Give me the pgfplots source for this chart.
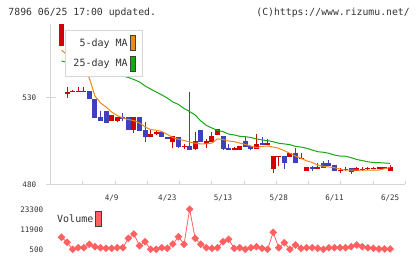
\documentclass[border=0pt]{standalone}
\usepackage{pgfplots}
\pgfplotsset{compat=1.18}
\usepackage{pgfplotstable}
\usepackage{fontspec}
\setmainfont{DejaVu Sans Mono}
\definecolor{cRed}{HTML}{D40000}
\definecolor{cBlue}{HTML}{3F3FBF}
\definecolor{cOrange}{HTML}{EE8A1A}
\definecolor{cGreen}{HTML}{16A816}
\definecolor{cVol}{HTML}{FF6060}
\definecolor{cAxis}{HTML}{D6D6D6}
\definecolor{cText}{HTML}{333333}

% up candles (red): index open high low close
\pgfplotstableread{
i o h l c
0 560.0 572.4 560.0 572.4
1 532.0 536.0 529.7 533.5
2 533.2 534.2 533.2 534.0
3 533.2 536.0 533.2 534.0
4 533.2 536.3 533.2 534.0
9 516.7 520.0 516.7 520.0
10 516.7 519.0 515.8 519.0
13 511.4 518.7 509.8 518.7
16 507.5 511.4 507.5 509.0
17 509.3 510.7 508.5 510.1
20 504.6 508.0 500.8 508.0
22 501.5 503.2 500.6 502.3
24 500.4 510.3 500.0 505.0
26 503.5 506.3 500.8 504.8
27 504.6 510.3 504.6 507.9
28 508.5 511.9 508.5 511.9
31 499.9 501.7 499.8 500.7
32 499.8 502.3 499.8 502.3
35 500.4 509.0 500.4 503.2
37 502.9 506.0 502.7 503.7
38 488.8 496.3 486.7 496.3
39 495.6 496.4 490.7 496.4
41 495.9 498.2 495.9 498.2
43 494.6 498.2 494.6 495.4
44 487.9 489.8 487.9 489.8
46 488.8 492.5 488.8 489.8
50 487.4 489.6 486.4 488.2
51 488.3 489.8 487.9 489.1
53 487.9 489.8 487.9 489.2
54 488.3 489.8 487.9 489.1
55 488.6 489.8 488.2 489.4
56 488.6 489.8 488.6 489.4
57 488.8 489.8 488.8 489.8
58 489.0 490.2 488.8 489.8
59 487.9 491.1 487.9 489.8
}\redtab

% down candles (blue)
\pgfplotstableread{
i o h l c
5 534.0 534.0 529.2 529.2
6 529.2 529.2 518.1 518.1
7 519.0 522.3 516.7 516.7
8 522.3 522.3 515.6 515.6
11 518.7 521.2 516.7 517.7
12 518.7 518.7 511.4 511.4
14 518.7 518.7 510.8 510.8
15 511.4 515.8 504.6 507.5
18 510.3 510.3 507.5 507.5
19 507.5 507.5 506.0 506.0
21 507.5 507.5 500.8 501.7
23 502.1 533.5 499.8 499.8
25 511.4 511.4 504.6 504.6
29 507.9 507.9 500.0 500.4
30 501.0 503.2 499.8 499.8
33 505.0 507.5 501.7 501.7
34 502.1 502.1 499.8 500.6
36 504.0 507.1 502.7 502.7
40 496.3 496.3 488.8 492.5
42 498.2 500.8 492.1 492.1
45 489.8 490.7 487.9 488.8
47 492.5 493.5 489.5 489.5
48 492.5 494.0 490.8 490.8
49 491.1 491.1 487.9 487.9
52 489.2 489.2 485.8 487.1
}\bluetab

% moving averages
\pgfplotstableread{
i ma5 ma25
0 557.5 551.2
1 554.7 550.4
2 551.8 549.6
3 548.3 548.8
4 545.4 548.0
5 541.4 547.2
6 531.0 546.4
7 527.0 545.7
8 524.6 544.8
9 521.7 544.0
10 519.7 543.2
11 518.3 542.5
12 517.4 541.7
13 516.8 540.5
14 515.4 539.1
15 513.1 536.8
16 511.6 535.0
17 511.2 533.3
18 510.5 531.6
19 508.8 529.8
20 507.0 527.5
21 506.0 526.1
22 505.3 523.8
23 504.4 522.0
24 503.8 520.0
25 503.3 516.6
26 503.3 514.0
27 503.8 512.5
28 506.2 511.1
29 505.9 510.4
30 505.0 509.0
31 504.6 508.5
32 503.8 507.7
33 503.0 507.5
34 502.1 507.0
35 501.2 506.2
36 501.9 505.6
37 502.1 505.2
38 501.5 504.6
39 500.8 503.7
40 499.4 503.3
41 497.9 502.9
42 496.3 501.9
43 495.0 501.5
44 493.6 500.8
45 492.6 499.8
46 491.1 498.8
47 490.4 498.5
48 490.0 497.9
49 489.6 496.9
50 488.8 496.3
51 488.2 496.2
52 488.2 495.4
53 488.2 494.3
54 488.2 493.7
55 488.2 493.0
56 488.2 492.6
57 488.2 492.5
58 489.0 492.3
59 489.7 492.1
}\matab

% volume
\pgfplotstableread{
i v
0 7340
1 4490
2 500
3 1410
4 1410
5 3350
6 2000
7 1410
8 1070
9 1070
10 1410
11 1410
12 6770
13 9220
14 2550
15 4830
16 500
17 500
18 1410
19 1070
20 3520
21 7680
22 3350
23 23300
24 6770
25 3350
26 1410
27 1070
28 1410
29 4830
30 6200
31 1070
32 1410
33 500
34 1410
35 2000
36 1070
37 500
38 10190
39 1410
40 4260
41 500
42 2950
43 1070
44 1410
45 1410
46 1070
47 500
48 1410
49 1410
50 1410
51 1410
52 2000
53 2950
54 2000
55 1410
56 1070
57 700
58 700
59 700
}\voltab

\begin{document}
\begin{tikzpicture}
\useasboundingbox (0pt,0pt) rectangle (420pt,259pt);
\node[anchor=west, inner sep=0pt, text=cText, font=\fontsize{9.8}{11}\selectfont] at (8.3pt,246.3pt) {7896 06/25 17:00 updated.};
\node[anchor=east, inner sep=0pt, text=cText, font=\fontsize{9.8}{11}\selectfont] at (410pt,246.3pt) {(C)https://www.rizumu.net/};

\begin{axis}[
  at={(50.7pt,74.7pt)}, anchor=south west, scale only axis,
  width=354.6pt, height=160.3pt,
  xmin=-1.94, xmax=61.72, ymin=480, ymax=572.55,
  axis x line*=bottom, axis y line*=left,
  axis line style={cAxis, line width=1pt, -},
  /pgf/number format/assume math mode=true,
  tick label style={text=cText, font=\fontsize{7.6}{8}\selectfont},
  ytick={480,530}, yticklabels={480,530},
  ytick align=center, major tick length=10pt,
  major y tick style={cAxis, line width=1pt},
  yticklabel style={anchor=east, xshift=-6pt},
  xtick={9,19,29,39,49,59},
  xticklabels={4/9,4/23,5/13,5/28,6/11,6/25},
  major x tick style={draw=none},
  xticklabel style={anchor=north, yshift=-7pt},
  minor xtick={-1.94,3.847,9.635,15.422,21.209,26.997,32.784,38.571,44.358,50.146,55.933,61.72},
  minor tick length=3pt, xtick align=inside,
  minor x tick style={cAxis, line width=1pt},
  legend style={at={(0.0403,0.9626)}, anchor=north west, draw=cAxis, line width=1pt, fill=white,
     font=\fontsize{10}{12}\selectfont, text=cText, inner xsep=6pt, inner ysep=5pt, row sep=4.5pt},
  legend cell align=right, legend plot pos=right,
]
% wicks
\addplot[forget plot, draw=none, mark=none,
  error bars/.cd, y dir=plus, y explicit, error mark=none,
  error bar style={draw=cRed, line width=1pt}]
  table[x=i, y=l, y error plus expr=\thisrow{h}-\thisrow{l}] {\redtab};
\addplot[forget plot, draw=none, mark=none,
  error bars/.cd, y dir=plus, y explicit, error mark=none,
  error bar style={draw=cBlue, line width=1pt}]
  table[x=i, y=l, y error plus expr=\thisrow{h}-\thisrow{l}] {\bluetab};
% bodies
\addplot[forget plot, draw=none, mark=none,
  error bars/.cd, y dir=plus, y explicit, error mark=none,
  error bar style={draw=cRed, line width=5pt}]
  table[x=i, y=o, y error plus expr=\thisrow{c}-\thisrow{o}] {\redtab};
\addplot[forget plot, draw=none, mark=none,
  error bars/.cd, y dir=plus, y explicit, error mark=none,
  error bar style={draw=cBlue, line width=5pt}]
  table[x=i, y=c, y error plus expr=\thisrow{o}-\thisrow{c}] {\bluetab};
% moving averages
\addplot[forget plot, cOrange, line width=1pt, mark=none] table[x=i, y=ma5] {\matab};
\addplot[forget plot, cGreen, line width=1pt, mark=none] table[x=i, y=ma25] {\matab};
\addlegendimage{legend image code/.code={\draw[fill=cOrange, draw=black!75, line width=0.9pt] (0pt,-7.5pt) rectangle (5.8pt,7.5pt);}}
\addlegendentry{5-day MA}
\addlegendimage{legend image code/.code={\draw[fill=cGreen, draw=black!75, line width=0.9pt] (0pt,-7.5pt) rectangle (5.8pt,7.5pt);}}
\addlegendentry{25-day MA}
\end{axis}

\begin{axis}[
  at={(50.7pt,6pt)}, anchor=south west, scale only axis,
  width=354.6pt, height=48pt,
  xmin=-1.94, xmax=61.72, ymin=-1609, ymax=25751,
  axis line style={draw=none},
  xtick=\empty, ytick={500,11900,23300}, yticklabels={500,11900,23300},
  scaled y ticks=false,
  major tick length=0pt,
  tick label style={text=cText, font=\fontsize{7.6}{8}\selectfont},
  yticklabel style={anchor=east, xshift=-4pt},
  clip=false,
  legend style={at={(0.0065,0.875)}, anchor=north west, draw=none, fill=none,
     font=\fontsize{10}{12}\selectfont, text=cText, inner xsep=2pt, inner ysep=0pt},
  legend plot pos=right,
]
\addplot[forget plot, cVol, line width=0.8pt, mark=square*, mark size=2.3pt, mark options={rotate=45, fill=cVol, draw=cVol}] table[x=i, y=v] {\voltab};
\addlegendimage{legend image code/.code={\draw[fill=cVol, draw=black!75, line width=0.9pt] (0pt,-7.5pt) rectangle (5.8pt,7.5pt);}}
\addlegendentry{Volume}
\end{axis}
\end{tikzpicture}
\end{document}
